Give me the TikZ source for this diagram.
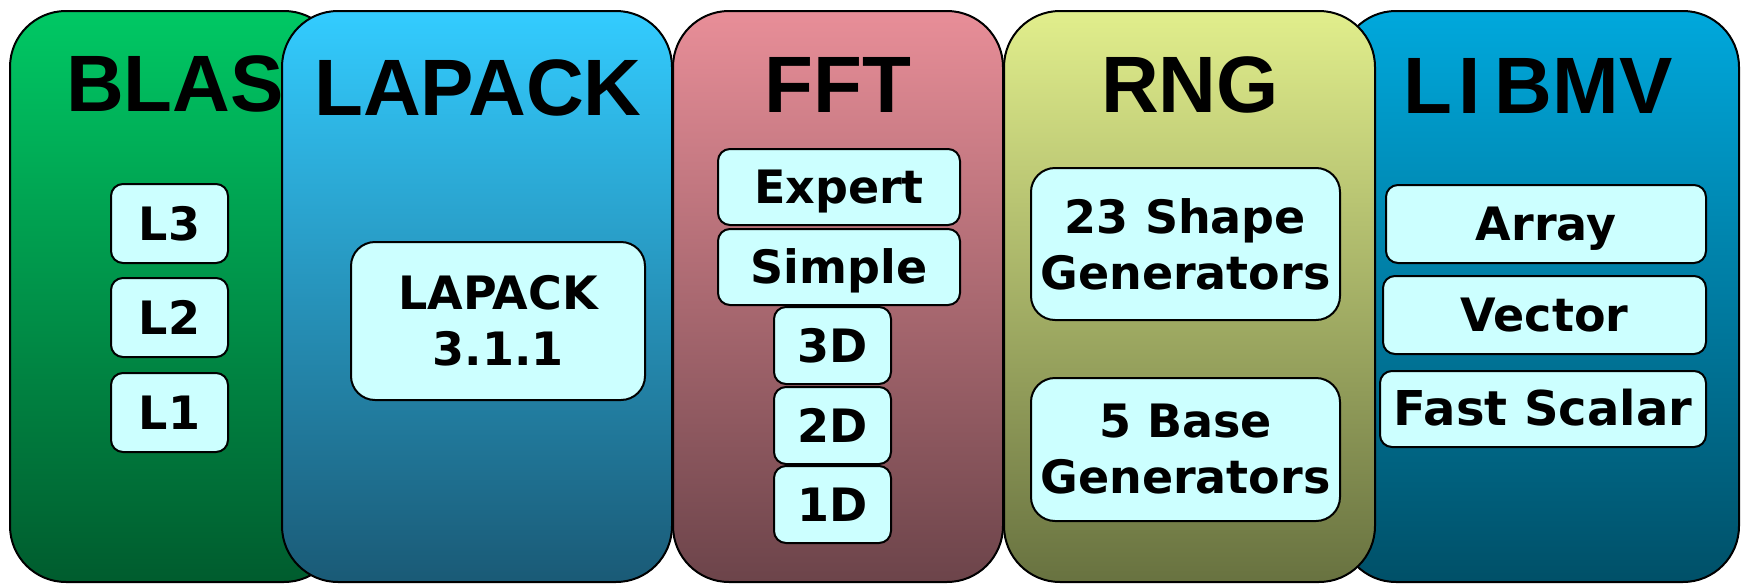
\documentclass[tikz,border=0pt]{standalone}
\usepackage{fontspec}
\setmainfont{DejaVu Sans}
\newfontfamily\titlefont{Liberation Sans}
\usepackage{tikz}
\usetikzlibrary{positioning}
\definecolor{blasT}{RGB}{0,200,100}   \definecolor{blasB}{RGB}{0,92,46}
\definecolor{lapT}{RGB}{51,204,255}   \definecolor{lapB}{RGB}{26,90,118}
\definecolor{fftT}{RGB}{232,142,152}  \definecolor{fftB}{RGB}{108,68,74}
\definecolor{rngT}{RGB}{225,238,140}  \definecolor{rngB}{RGB}{104,114,64}
\definecolor{mvT}{RGB}{0,168,220}     \definecolor{mvB}{RGB}{0,80,104}
\definecolor{partfill}{RGB}{204,255,255}
\tikzset{
  lib/.style n args={3}{rectangle,rounded corners=28pt,draw=black,line width=1pt,
    minimum width=#1,minimum height=285.5pt,inner sep=0pt,top color=#2,bottom color=#3},
  libtitle/.style={anchor=base,inner sep=0pt,font=\titlefont\bfseries\fontsize{40}{40}\selectfont},
  part/.style ={rectangle,rounded corners=6pt,draw=black,line width=1pt,fill=partfill,
    inner sep=0pt,align=center,font=\bfseries\fontsize{23}{28}\selectfont},
  one/.style  ={text height=16.8pt,text depth=0pt},
  bigpart/.style={rounded corners=12pt},
}
\begin{document}
\begin{tikzpicture}[x=0.5pt,y=-0.5pt]
  \useasboundingbox (0,0) rectangle (1741,584);
  \node[lib={165pt}{blasT}{blasB}](blas) at (175,296.5){};
  \node[lib={195pt}{lapT}{lapB}](lapack) at (477,296.5){};
  \node[lib={165pt}{fftT}{fftB}](fft) at (838,296.5){};
  \node[lib={199.5pt}{mvT}{mvB}](libmv) at (1539.5,296.5){};
  \node[lib={185.5pt}{rngT}{rngB}](rng) at (1189.5,296.5){};
  \node[libtitle](blasT) at (175,111){BLAS};
  \node[libtitle](lapackT) at (478,115){LAPACK};
  \node[libtitle](fftT) at (838,112){FFT};
  \node[libtitle](rngT) at (1190,112){RNG};
  \node[libtitle](libmvT) at (1538,113){L\kern3pt I\kern7pt BMV};
  \node[part,one,minimum width=58.5pt,minimum height=39.5pt](l3) at (169.5,223.5){L3};
  \node[part,one,minimum width=58.5pt,minimum height=39.5pt,below=6.5pt of l3](l2){L2};
  \node[part,one,minimum width=58.5pt,minimum height=39.5pt,below=7pt of l2](l1){L1};
  \node[part,bigpart,minimum width=147pt,minimum height=79pt](lap311) at (498,321){LAPACK\\3.1.1};
  \node[part,one,minimum width=121pt,minimum height=38pt](expert) at (839,187){Expert};
  \node[part,one,minimum width=121pt,minimum height=38pt,below=1pt of expert](simple){Simple};
  \node[part,one,minimum width=58.5pt,minimum height=38.5pt](d3) at (832.5,345.5){3D};
  \node[part,one,minimum width=58.5pt,minimum height=38.5pt,below=0.5pt of d3](d2){2D};
  \node[part,one,minimum width=58.5pt,minimum height=38.5pt,below=0pt of d2](d1){1D};
  \node[part,bigpart,minimum width=154.5pt,minimum height=76pt](shape) at (1185.5,244){23 Shape\\Generators};
  \node[part,bigpart,minimum width=154.5pt,minimum height=71.5pt](base) at (1185.5,449.5){5 Base\\Generators};
  \node[part,one,minimum width=160pt,minimum height=39pt](array) at (1546,224){Array};
  \node[part,one,minimum width=161.5pt,minimum height=39pt](vector) at (1544.5,315){Vector};
  \node[part,one,minimum width=163pt,minimum height=38pt,font=\bfseries\fontsize{24}{28}\selectfont](scalar) at (1543,409){Fast Scalar};
\end{tikzpicture}
\end{document}
